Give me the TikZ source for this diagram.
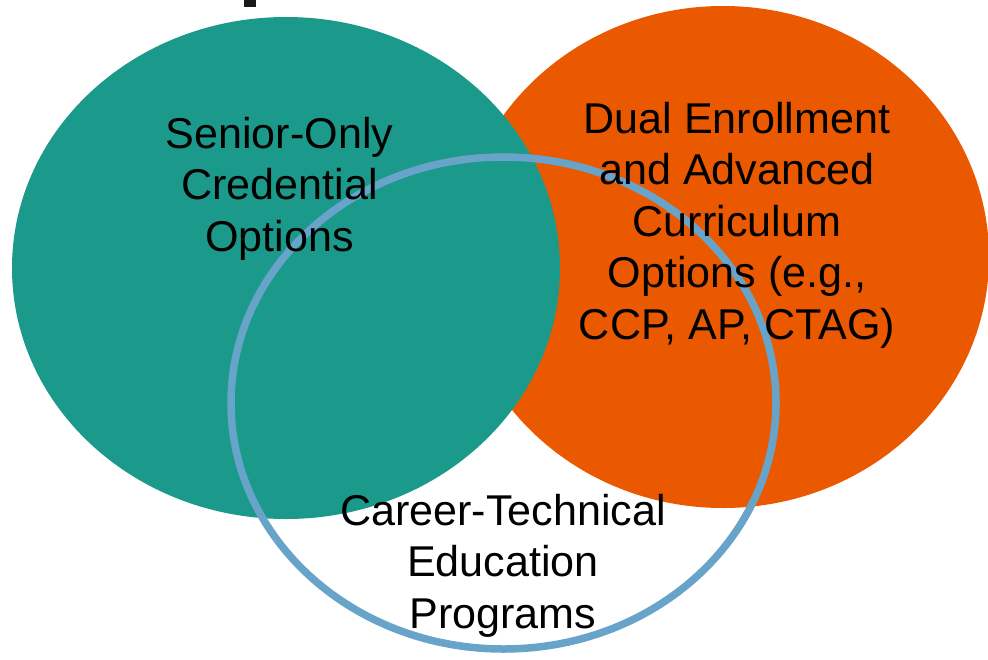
\documentclass[tikz,border=0pt]{standalone}
\usepackage{fontspec}
\setmainfont{Liberation Sans}
\usepackage{tikz}
\usepackage{tkz-euclide}
\usetikzlibrary{calc}
\usetikzlibrary{positioning}

\definecolor{setteal}{RGB}{27,153,138}
\definecolor{setorange}{RGB}{234,88,0}
\definecolor{setblue}{RGB}{104,164,202}

\tikzset{
  setlabel/.style={font=\fontsize{43.1}{51.5}\selectfont,align=center,inner sep=0pt,text=black},
}

\begin{document}
\begin{tikzpicture}[%
  x=1pt,
  y=-1pt,
  % yscale=0.8,
]

  \useasboundingbox (0,0) rectangle (988,659);

  \tkzDefPoint(286,268){S}
  \tkzDefPoint(723,257){D}
  \tkzDefPoint(503.5,403){C}

  \fill[setorange] (D) ellipse [x radius=266, y radius=251];
  \fill[setteal] (S) ellipse [x radius=274, y radius=251];
  \draw[setblue,line width=7.5pt] (C) ellipse [x radius=272.5, y radius=246];

  % cut-off title
  \fill[black!90] (244,0) rectangle (256,7);

  \node[setlabel] (senior) at (279.5,188.5) {Senior-Only\\Credential\\Options};
  \node[setlabel] (dual) at (737,225) {Dual Enrollment\\and Advanced\\Curriculum\\Options (e.g.,\\CCP, AP, CTAG)};
  \node[setlabel] (career) at (503,565.5) {Career-Technical\\Education\\Programs};

\end{tikzpicture}
\end{document}
